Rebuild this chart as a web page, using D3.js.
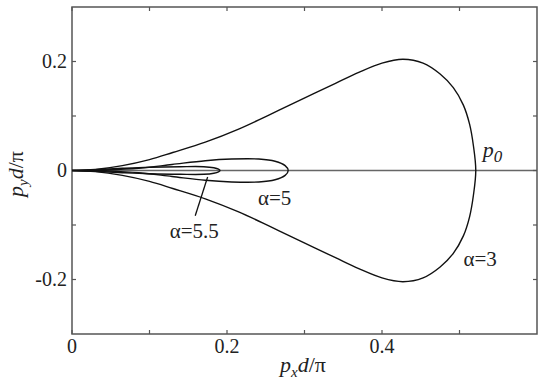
<!DOCTYPE html>
<html>
<head>
<meta charset="utf-8">
<script src="https://cdn.jsdelivr.net/npm/d3@7"></script>
</head>
<body style="margin:0">
<svg id="chart"></svg>
<script>
// curve data (px d/pi, py d/pi)
var alpha3 = [[0,0],[0.03,-0.002],[0.065,-0.009],[0.1,-0.02],[0.13,-0.033],[0.172,-0.052],[0.215,-0.076],[0.256,-0.103],[0.297,-0.131],[0.34,-0.160],[0.37,-0.180],[0.40,-0.197],[0.427,-0.204],[0.453,-0.197],[0.475,-0.177],[0.492,-0.152],[0.505,-0.120],[0.513,-0.085],[0.518,-0.045],[0.521,0],
              [0.518,0.045],[0.513,0.085],[0.505,0.120],[0.492,0.152],[0.475,0.177],[0.453,0.197],[0.427,0.204],[0.40,0.197],[0.37,0.180],[0.34,0.160],[0.297,0.131],[0.256,0.103],[0.215,0.076],[0.172,0.052],[0.13,0.033],[0.1,0.02],[0.065,0.009],[0.03,0.002],[0,0]];
var alpha5 = [[0,0],[0.04,-0.001],[0.086,-0.004],[0.129,-0.011],[0.172,-0.018],[0.206,-0.021],[0.241,-0.021],[0.262,-0.017],[0.275,-0.009],[0.279,0],
              [0.275,0.009],[0.262,0.017],[0.241,0.021],[0.206,0.021],[0.172,0.018],[0.129,0.011],[0.086,0.004],[0.04,0.001],[0,0]];
var alpha55 = [[0,0],[0.03,-0.0015],[0.065,-0.004],[0.1,-0.006],[0.14,-0.007],[0.17,-0.007],[0.183,-0.005],[0.189,-0.0025],[0.191,0],
               [0.189,0.0025],[0.183,0.005],[0.17,0.007],[0.14,0.007],[0.1,0.006],[0.065,0.004],[0.03,0.0015],[0,0]];
var pointer55 = [[0.159,-0.083],[0.175,-0.012]];

var xTicks = [0, 0.1, 0.2, 0.3, 0.4, 0.5];
var xLabels = [0, 0.2, 0.4];
var yTicks = [-0.2, -0.1, 0, 0.1, 0.2];
var yLabels = [-0.2, 0, 0.2];

var labels = [
  {text: "\u03b1=5", x: 0.24, y: -0.064},
  {text: "\u03b1=5.5", x: 0.126, y: -0.124},
  {text: "\u03b1=3", x: 0.505, y: -0.176}
];

var width = 545, height = 388;
var margin = {left: 72, right: 8, top: 7, bottom: 54};

var svg = d3.select("#chart").attr("width", width).attr("height", height);

var x = d3.scaleLinear().domain([0, 0.6]).range([margin.left, width - margin.right]);
var y = d3.scaleLinear().domain([-0.3, 0.3]).range([height - margin.bottom, margin.top]);

var axisColor = "#555";

// every text goes through this so the serif face sticks
function addText(sel, size) {
  return sel.append("text")
    .attr("font-size", size)
    .attr("fill", "#222")
    .attr("font-family", "Times New Roman")
    .style("font-family", "'Times New Roman'");
}

// zero line
svg.append("line")
  .attr("x1", x(0)).attr("x2", x(0.6))
  .attr("y1", y(0)).attr("y2", y(0))
  .attr("stroke", "#666").attr("stroke-width", 1.5);

// ticks, pointing inward on all sides
var tl = 4;
xTicks.forEach(function(t) {
  svg.append("line").attr("x1", x(t)).attr("x2", x(t)).attr("y1", y(-0.3)).attr("y2", y(-0.3) - tl)
    .attr("stroke", axisColor).attr("stroke-width", 1.2);
  svg.append("line").attr("x1", x(t)).attr("x2", x(t)).attr("y1", y(0.3)).attr("y2", y(0.3) + tl)
    .attr("stroke", axisColor).attr("stroke-width", 1.2);
});
yTicks.forEach(function(t) {
  svg.append("line").attr("x1", x(0)).attr("x2", x(0) + tl).attr("y1", y(t)).attr("y2", y(t))
    .attr("stroke", axisColor).attr("stroke-width", 1.2);
  svg.append("line").attr("x1", x(0.6)).attr("x2", x(0.6) - tl).attr("y1", y(t)).attr("y2", y(t))
    .attr("stroke", axisColor).attr("stroke-width", 1.2);
});

xLabels.forEach(function(d) {
  addText(svg, 20).attr("x", x(d)).attr("y", y(-0.3) + 19)
    .attr("text-anchor", "middle").text(d);
});

yLabels.forEach(function(d) {
  addText(svg, 20).attr("x", x(0) - 5).attr("y", y(d) + 6)
    .attr("text-anchor", "end").text(d);
});

// frame
svg.append("rect")
  .attr("x", x(0)).attr("y", y(0.3))
  .attr("width", x(0.6) - x(0)).attr("height", y(-0.3) - y(0.3))
  .attr("fill", "none").attr("stroke", axisColor).attr("stroke-width", 1.5);

var line = d3.line()
  .x(function(d) { return x(d[0]); })
  .y(function(d) { return y(d[1]); })
  .curve(d3.curveCatmullRom.alpha(0.5));

[alpha3, alpha5, alpha55].forEach(function(c) {
  svg.append("path")
    .attr("d", line(c))
    .attr("fill", "none")
    .attr("stroke", "#111")
    .attr("stroke-width", 1.4);
});

svg.append("path")
  .attr("d", d3.line().x(function(d) { return x(d[0]); }).y(function(d) { return y(d[1]); })(pointer55))
  .attr("stroke", "#111").attr("stroke-width", 1.3);

labels.forEach(function(d) {
  addText(svg, 21).attr("x", x(d.x)).attr("y", y(d.y)).text(d.text);
});

// p0 label
var p0 = addText(svg, 22).attr("x", x(0.53)).attr("y", y(0.024)).attr("font-style", "italic");
p0.append("tspan").text("p");
p0.append("tspan").attr("dy", 5).attr("font-size", 17).text("0");

// axis titles
var xt = addText(svg, 22).attr("x", 280).attr("y", 372);
xt.append("tspan").attr("font-style", "italic").text("p");
xt.append("tspan").attr("font-style", "italic").attr("font-size", 15).attr("dy", 5).text("x");
xt.append("tspan").attr("font-style", "italic").attr("dy", -5).text("d");
xt.append("tspan").text("/\u03c0");

var yt = addText(svg, 22).attr("transform", "translate(23,197) rotate(-90)");
yt.append("tspan").attr("font-style", "italic").text("p");
yt.append("tspan").attr("font-style", "italic").attr("font-size", 15).attr("dy", 5).text("y");
yt.append("tspan").attr("font-style", "italic").attr("dy", -5).text("d");
yt.append("tspan").text("/\u03c0");
</script>
</body>
</html>
